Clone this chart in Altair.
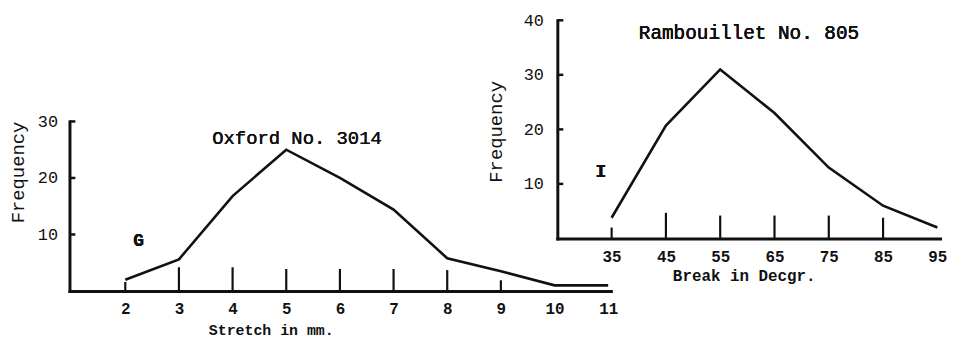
import altair as alt
import pandas as pd

# ---- data ----
stretch_mm = [2, 3, 4, 5, 6, 7, 8, 9, 10, 11]
oxford_freq = [2.0, 5.6, 16.8, 25.0, 20.0, 14.4, 5.8, 3.5, 1.0, 1.0]
oxford_mark_x = [2, 3, 4, 5, 6, 7, 8, 9]
oxford_mark_len = [1.6, 4.2, 4.2, 3.9, 3.9, 3.9, 3.7, 1.9]
oxford_yvals = [10, 20, 30]

break_deg = [35, 45, 55, 65, 75, 85, 95]
ramb_freq = [3.8, 20.7, 31.0, 23.0, 13.0, 6.0, 2.0]
ramb_mark_x = [35, 45, 55, 65, 75, 85]
ramb_mark_len = [2.0, 4.7, 4.2, 4.2, 4.2, 3.8]
ramb_yvals = [10, 20, 30, 40]

FONT = "Liberation Mono"
INK = "#111111"

ox_line = pd.DataFrame({"x": stretch_mm, "y": oxford_freq})
ox_marks = pd.DataFrame({"x": oxford_mark_x, "y": [0] * len(oxford_mark_x), "y2": oxford_mark_len})
ox_yt = pd.DataFrame({"v": oxford_yvals})

rb_line = pd.DataFrame({"x": break_deg, "y": ramb_freq})
rb_marks = pd.DataFrame({"x": ramb_mark_x, "y": [0] * len(ramb_mark_x), "y2": ramb_mark_len})
rb_yt = pd.DataFrame({"v": ramb_yvals})

# plot rectangle: width 878, height 278
W, H = 878, 278

ox_xscale = alt.Scale(domain=[0.96, 11.05], range=[0, 546], nice=False, zero=False)
ox_yscale = alt.Scale(domain=[0, 30], range=[278, 107], nice=False, zero=False)
rb_xscale = alt.Scale(domain=[25, 95.5], range=[492, 878], nice=False, zero=False)
rb_yscale = alt.Scale(domain=[0, 40], range=[225, 5], nice=False, zero=False)

common_axis = dict(
    ticks=False, grid=False, domainWidth=3, domainColor=INK, domainCap="square",
    labelFont=FONT, labelColor=INK, titleFont=FONT, titleColor=INK, format="d",
)

ox_xaxis = alt.Axis(orient="bottom", values=stretch_mm, labelFontSize=16, labelFontWeight="bold",
                    labelPadding=10, title="Stretch in mm.", titleFontSize=15,
                    titleFontWeight="bold",
                    titleX=203, titleY=39, titleBaseline="middle", titleAlign="center",
                    **common_axis)
ox_yaxis = alt.Axis(orient="left", values=oxford_yvals, labelFontSize=17, labelPadding=12,
                    labelFontWeight="normal",
                    title="Frequency", titleFontSize=19, titleFontWeight="normal",
                    titleX=-52, titleY=158,
                    titleAngle=-90, titleBaseline="middle", titleAlign="center",
                    **common_axis)
rb_xaxis = alt.Axis(orient="bottom", offset=-53, values=break_deg, labelFontSize=16,
                    labelFontWeight="bold", labelPadding=10, title="Break in Decgr.",
                    titleFontSize=16, titleFontWeight="bold",
                    titleX=680, titleY=37, titleBaseline="middle",
                    titleAlign="center", **common_axis)
rb_yaxis = alt.Axis(orient="left", offset=-492, values=ramb_yvals, labelFontSize=17,
                    labelFontWeight="normal",
                    labelPadding=14, title="Frequency", titleFontSize=19,
                    titleFontWeight="normal", titleX=-62,
                    titleY=117, titleAngle=-90, titleBaseline="middle", titleAlign="center",
                    **common_axis)

OX = alt.X("x:Q", scale=ox_xscale, axis=ox_xaxis)
OY = alt.Y("y:Q", scale=ox_yscale, axis=ox_yaxis)
RX = alt.X("x:Q", scale=rb_xscale, axis=rb_xaxis)
RY = alt.Y("y:Q", scale=rb_yscale, axis=rb_yaxis)

# ---- Oxford (left) ----
ox_l = alt.Chart(ox_line).mark_line(color=INK, strokeWidth=2.6).encode(x=OX, y=OY)
ox_r = alt.Chart(ox_marks).mark_rule(color=INK, strokeWidth=2.2).encode(x=OX, y=OY, y2="y2:Q")
ox_t = alt.Chart(ox_yt).mark_rule(color=INK, strokeWidth=2.5).encode(
    x=alt.datum(0.96), x2=alt.datum(1.07), y=alt.Y("v:Q"))
ox_title = alt.Chart(ox_yt).mark_text(font=FONT, fontSize=19, fontWeight="normal", color=INK).encode(
    x=alt.datum(5.2), y=alt.datum(27.0), text=alt.value("Oxford No. 3014"))
ox_g = alt.Chart(ox_yt).mark_text(font=FONT, fontSize=18, fontWeight="bold", color=INK).encode(
    x=alt.datum(2.25), y=alt.datum(8.9), text=alt.value("G"))
oxford = alt.layer(ox_l, ox_r, ox_t, ox_title, ox_g)

# ---- Rambouillet (right) ----
rb_l = alt.Chart(rb_line).mark_line(color=INK, strokeWidth=2.6).encode(x=RX, y=RY)
rb_r = alt.Chart(rb_marks).mark_rule(color=INK, strokeWidth=2.2).encode(x=RX, y=RY, y2="y2:Q")
rb_t = alt.Chart(rb_yt).mark_rule(color=INK, strokeWidth=2.5).encode(
    x=alt.datum(25.0), x2=alt.datum(26.1), y=alt.Y("v:Q"))
rb_title = alt.Chart(rb_yt).mark_text(font=FONT, fontSize=19.5, fontWeight="normal", color=INK).encode(
    x=alt.datum(60.3), y=alt.datum(37.6), text=alt.value("Rambouillet No. 805"))
rb_i = alt.Chart(rb_yt).mark_text(font=FONT, fontSize=18, fontWeight="bold", color=INK).encode(
    x=alt.datum(33.0), y=alt.datum(12.2), text=alt.value("I"))
ramb = alt.layer(rb_l, rb_r, rb_t, rb_title, rb_i)

chart = alt.layer(oxford, ramb).resolve_scale(x="independent", y="independent").properties(
    width=W, height=H,
    autosize=alt.AutoSizeParams(type="none"),
    padding={"left": 62, "top": 6, "right": 9, "bottom": 49},
    background="white",
).configure_view(stroke=None)

chart.save("out.html", embed_options={"renderer": "svg", "actions": False})
